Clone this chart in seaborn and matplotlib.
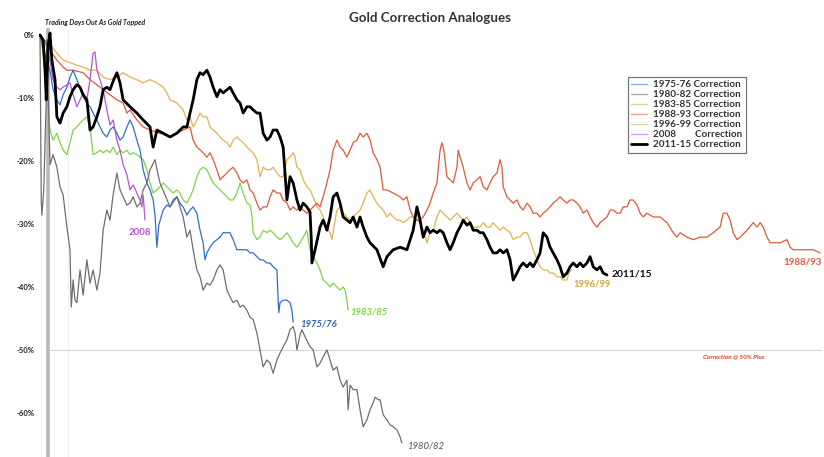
import pandas as pd
import matplotlib
matplotlib.use('Agg')
import matplotlib.pyplot as plt
import seaborn as sns

# (trading day, % change from the top)
c1975 = [(0,0),(5,-1.6),(10,-4.0),(16,-5.6),(21,-8.7),(27,-10.3),(32,-11.1),(37,-9.5),(43,-8.3),(48,-6.7),(53,-5.6),
         (59,-7.1),(64,-8.3),(69,-9.8),(75,-10.8),(80,-11.4),(85,-12.4),(91,-13.5),(96,-14.6),(101,-15.6),(107,-16.2),
         (112,-15.1),(117,-14.6),(123,-15.6),(128,-16.7),(133,-16.2),(139,-14.6),(144,-13.5),(149,-14.6),(155,-16.7),
         (160,-18.3),(165,-21.4),(171,-23.5),(176,-24.6),(181,-26.2),(184,-28.6),(187,-33.7),(190,-30.2),(197,-27.8),
         (203,-27.0),(208,-27.3),(213,-26.2),(219,-25.7),(224,-26.7),(229,-27.3),(235,-28.6),(240,-27.8),(245,-27.3),
         (251,-28.3),(256,-31.0),(261,-33.0),(264,-35.7),(267,-34.6),(272,-33.7),(277,-33.0),(283,-32.5),(288,-32.1),
         (293,-31.4),(299,-31.4),(304,-31.4),(309,-32.5),(315,-34.1),(320,-34.1),(325,-34.1),(331,-34.1),(336,-34.6),
         (341,-34.6),(347,-35.2),(352,-35.7),(357,-35.7),(363,-36.2),(368,-36.2),(373,-36.8),(379,-37.3),(381,-42.1),
         (382,-44.1),(384,-42.5),(389,-42.1),(395,-42.1),(400,-42.5),(403,-43.7),(405,-45.6)]

c1980 = [(0,0),(2,-26.2),(3,-28.6),(6,-24.6),(10,-10.3),(11,-0.8),(13,-8.7),(16,-20.6),(21,-19.0),(27,-21.0),
         (32,-24.1),(37,-25.4),(43,-30.5),(48,-34.1),(50,-43.2),(53,-38.9),(56,-42.1),(59,-42.5),(64,-37.3),(69,-41.3),
         (75,-35.7),(80,-39.4),(85,-37.3),(91,-40.5),(96,-37.8),(101,-31.0),(107,-27.8),(112,-29.4),(117,-25.4),
         (123,-21.9),(128,-24.6),(133,-25.7),(139,-27.0),(144,-26.7),(149,-25.7),(155,-27.3),(160,-26.7),(165,-24.6),
         (171,-23.5),(176,-21.4),(184,-19.8),(189,-22.2),(192,-23.5),(200,-25.4),(208,-27.3),(219,-25.7),(229,-28.9),
         (235,-32.1),(240,-31.0),(245,-34.1),(251,-37.3),(256,-38.4),(261,-40.5),(267,-39.4),(272,-39.7),(277,-38.9),
         (283,-37.3),(288,-36.5),(293,-37.3),(299,-40.5),(304,-41.6),(309,-42.5),(315,-42.1),(320,-43.2),(325,-42.9),
         (331,-43.7),(336,-44.8),(341,-45.2),(347,-47.3),(352,-50.0),(357,-52.7),(363,-51.6),(368,-52.1),(373,-53.7),
         (379,-51.6),(384,-50.5),(389,-49.5),(395,-48.4),(400,-46.8),(405,-46.3),(408,-47.3),(411,-50.0),(416,-47.6),
         (419,-46.8),(424,-47.9),(432,-49.5),(437,-50.0),(443,-52.7),(448,-52.1),(453,-51.1),(459,-50.0),(464,-51.6),
         (469,-53.2),(475,-52.7),(480,-54.8),(485,-55.9),(491,-54.8),(493,-59.5),(496,-55.6),(501,-56.3),(507,-56.3),
         (512,-59.5),(517,-62.2),(523,-61.1),(528,-59.5),(533,-58.4),(536,-57.5),(541,-57.9),(544,-57.9),(549,-60.3),
         (555,-61.1),(560,-61.9),(565,-62.2),(571,-62.7),(576,-63.8),(579,-64.8)]

c1983 = [(0,0),(3,-1.6),(6,-4.0),(10,-8.7),(13,-11.9),(16,-15.1),(21,-16.7),(27,-15.6),(32,-17.1),(37,-18.3),
         (43,-19.0),(48,-17.1),(53,-15.1),(59,-14.6),(64,-14.0),(69,-13.5),(75,-13.0),(80,-14.6),(85,-19.0),(91,-18.7),
         (96,-18.3),(101,-18.7),(107,-18.3),(112,-18.7),(117,-17.8),(123,-19.0),(128,-18.3),(133,-18.7),(139,-18.3),
         (144,-19.0),(149,-18.7),(155,-19.0),(160,-19.4),(165,-19.8),(171,-21.4),(176,-23.5),(181,-25.1),(187,-24.6),
         (192,-24.1),(197,-23.5),(203,-24.1),(208,-24.6),(213,-25.1),(219,-24.6),(224,-25.1),(229,-26.2),(235,-26.7),
         (240,-25.7),(245,-24.6),(251,-22.5),(256,-21.4),(261,-21.0),(267,-21.4),(272,-22.5),(277,-23.5),(283,-24.1),
         (288,-24.6),(293,-25.1),(299,-25.7),(304,-26.2),(309,-26.2),(315,-25.1),(320,-23.5),(325,-25.1),(331,-26.7),
         (336,-27.0),(339,-28.6),(341,-31.4),(347,-32.5),(352,-32.1),(357,-31.0),(363,-31.4),(368,-31.0),(373,-31.4),
         (379,-32.1),(384,-32.5),(389,-32.1),(395,-31.4),(400,-32.1),(405,-33.0),(411,-33.7),(416,-33.0),(421,-32.1),
         (427,-31.0),(432,-34.1),(437,-35.2),(443,-36.2),(448,-37.3),(453,-38.9),(459,-39.4),(464,-40.0),(469,-39.4),
         (475,-40.0),(480,-40.5),(485,-40.0),(488,-40.5),(491,-42.1),(493,-43.7)]

c1988 = [(0,0),(5,-0.8),(11,-1.6),(16,-2.4),(27,-4.0),(37,-5.1),(43,-5.6),(53,-5.6),(69,-6.0),(80,-7.1),(91,-7.9),
         (101,-8.7),(112,-9.5),(123,-10.3),(133,-10.8),(139,-12.4),(144,-11.9),(155,-13.5),(165,-14.6),(176,-15.1),
         (192,-15.6),(208,-16.2),(219,-15.6),(229,-15.1),(240,-14.6),(245,-16.7),(251,-17.8),(261,-18.7),(267,-19.4),
         (272,-18.7),(277,-19.8),(283,-21.4),(288,-23.0),(293,-22.5),(299,-21.9),(304,-21.4),(309,-21.0),(315,-21.9),
         (320,-23.0),(325,-23.5),(331,-23.0),(336,-24.6),(341,-25.1),(347,-26.7),(352,-27.8),(357,-27.3),(363,-27.3),
         (368,-25.7),(373,-24.6),(379,-25.1),(384,-25.1),(389,-26.2),(395,-26.7),(400,-27.8),(405,-27.3),(411,-27.8),
         (416,-27.3),(421,-27.8),(427,-28.3),(432,-27.8),(437,-27.3),(443,-26.7),(448,-27.3),(453,-25.7),(459,-23.5),
         (464,-21.4),(469,-18.3),(475,-16.7),(480,-17.8),(485,-18.3),(491,-19.4),(496,-18.3),(501,-17.1),(507,-16.7),
         (512,-15.6),(517,-16.2),(523,-15.6),(528,-16.7),(533,-18.7),(539,-19.8),(544,-21.0),(549,-24.6),(555,-24.6),
         (565,-25.1),(576,-25.7),(581,-26.2),(587,-25.7),(592,-27.8),(597,-28.9),(603,-29.4),(608,-29.4),(613,-28.9),
         (619,-27.8),(624,-26.7),(629,-25.1),(635,-23.5),(640,-18.3),(643,-17.1),(646,-18.3),(651,-22.5),(656,-23.0),
         (661,-23.5),(667,-21.0),(669,-18.3),(672,-19.4),(677,-21.0),(683,-23.5),(688,-24.6),(693,-23.5),(699,-23.0),
         (704,-22.5),(709,-24.1),(715,-24.6),(720,-23.5),(725,-22.5),(731,-21.9),(736,-19.8),(739,-21.0),(741,-24.1),
         (747,-25.7),(752,-26.2),(757,-26.7),(763,-26.2),(768,-27.3),(773,-27.8),(779,-26.7),(784,-27.3),(789,-28.3),
         (795,-28.3),(800,-28.9),(805,-28.3),(811,-27.8),(816,-27.3),(821,-26.7),(827,-26.2),(832,-25.7),(837,-26.2),
         (843,-26.7),(848,-26.2),(853,-26.2),(859,-26.7),(864,-27.3),(869,-28.3),(875,-27.8),(880,-28.9),(885,-29.8),
         (891,-30.5),(896,-29.8),(901,-29.4),(907,-28.9),(912,-27.8),(917,-27.8),(923,-28.3),(928,-28.3),(933,-27.3),
         (939,-27.3),(944,-26.2),(949,-26.2),(955,-27.0),(960,-28.3),(965,-28.9),(971,-28.3),(981,-28.9),(992,-28.9),
         (1003,-29.8),(1013,-31.4),(1019,-32.1),(1024,-31.4),(1035,-32.1),(1045,-32.5),(1056,-32.1),(1067,-32.1),
         (1077,-31.4),(1088,-30.5),(1093,-28.3),(1099,-28.3),(1104,-29.4),(1109,-31.4),(1115,-32.5),(1120,-32.1),
         (1131,-31.0),(1141,-29.8),(1147,-30.5),(1152,-29.8),(1157,-30.5),(1163,-32.1),(1168,-33.0),(1173,-33.0),
         (1184,-33.0),(1195,-32.5),(1200,-33.7),(1205,-34.1),(1216,-34.1),(1227,-34.1),(1237,-34.1),(1248,-34.6)]

c1996 = [(0,0),(5,-0.8),(16,-1.6),(27,-2.9),(37,-4.0),(48,-4.4),(59,-4.8),(69,-5.1),(80,-5.6),(91,-5.6),(101,-6.7),
         (112,-7.1),(123,-6.7),(133,-6.0),(144,-6.7),(155,-7.1),(165,-7.6),(176,-7.1),(187,-7.6),(197,-8.3),(203,-9.2),
         (208,-10.3),(219,-10.8),(229,-11.9),(235,-13.5),(240,-13.0),(245,-14.6),(251,-13.5),(256,-12.4),(261,-13.0),
         (267,-13.0),(272,-14.6),(277,-15.1),(283,-15.6),(288,-16.2),(293,-16.7),(299,-17.1),(304,-17.8),(309,-16.7),
         (315,-16.2),(320,-16.7),(325,-17.1),(331,-17.8),(336,-18.3),(341,-18.7),(347,-19.8),(352,-22.5),(357,-21.0),
         (363,-21.4),(368,-21.4),(373,-21.0),(379,-21.9),(384,-22.5),(389,-22.5),(395,-19.8),(400,-19.4),(405,-18.7),
         (408,-19.4),(411,-21.0),(416,-21.4),(421,-23.0),(427,-24.1),(432,-24.6),(437,-25.7),(443,-27.3),(448,-27.8),
         (453,-28.9),(459,-30.5),(464,-31.4),(467,-32.5),(472,-29.4),(475,-27.8),(480,-27.3),(485,-28.3),(491,-28.9),
         (496,-29.4),(501,-28.9),(507,-28.3),(512,-27.8),(517,-26.7),(523,-25.1),(528,-24.6),(533,-25.7),(539,-26.7),
         (544,-27.3),(549,-27.8),(555,-28.9),(560,-28.3),(565,-28.9),(571,-29.4),(576,-29.4),(581,-29.8),(587,-29.4),
         (592,-28.9),(597,-28.9),(603,-29.4),(608,-29.8),(613,-31.0),(619,-33.0),(624,-31.4),(629,-31.0),(635,-28.9),
         (640,-27.8),(645,-28.3),(651,-28.9),(656,-29.4),(661,-28.9),(667,-28.3),(672,-28.9),(677,-29.4),(683,-28.9),
         (688,-29.8),(693,-30.5),(699,-30.5),(704,-30.5),(709,-29.8),(715,-30.5),(720,-30.5),(725,-29.8),(731,-30.5),
         (736,-31.0),(741,-30.5),(747,-31.0),(752,-31.4),(757,-32.5),(763,-32.1),(768,-32.1),(773,-31.4),(779,-31.4),
         (784,-32.5),(789,-34.1),(795,-35.7),(800,-36.8),(805,-37.3),(811,-37.3),(816,-37.8),(821,-37.8),(827,-38.4),
         (832,-38.4),(837,-38.9),(843,-38.9),(846,-37.8),(850,-37.3)]

c2008 = [(0,0),(3,-1.6),(8,-0.8),(13,-3.2),(16,-4.0),(21,-7.1),(27,-8.3),(32,-8.7),(37,-8.3),(43,-7.9),(48,-7.6),
         (53,-9.5),(59,-11.4),(64,-10.3),(69,-9.2),(75,-10.3),(80,-7.1),(85,-2.9),(88,-2.7),(91,-5.6),(96,-7.1),
         (101,-8.7),(107,-11.9),(112,-14.3),(117,-13.5),(123,-16.7),(128,-18.3),(133,-20.6),(139,-22.2),(144,-24.6),
         (149,-23.8),(155,-25.1),(160,-26.2),(163,-27.3),(165,-25.4),(168,-29.4)]

c2011 = [(0,0),(5,-0.8),(8,-5.6),(10,-10.3),(13,-1.6),(16,0.3),(19,-4.0),(24,-7.1),(27,-13.0),(32,-14.0),(37,-12.4),
         (43,-11.4),(48,-9.8),(53,-8.7),(59,-7.9),(64,-8.3),(69,-9.5),(75,-10.3),(80,-15.1),(85,-14.6),(91,-13.0),
         (96,-11.4),(101,-8.7),(107,-8.3),(112,-8.7),(118,-7.1),(123,-6.0),(128,-7.6),(133,-10.3),(144,-11.4),
         (155,-12.4),(165,-13.5),(176,-14.6),(181,-17.8),(187,-15.1),(197,-15.6),(208,-16.2),(219,-15.6),(229,-14.6),
         (235,-14.6),(240,-12.4),(245,-10.3),(251,-7.1),(256,-6.0),(261,-6.3),(267,-5.6),(272,-6.7),(277,-8.3),
         (283,-9.8),(288,-8.7),(293,-9.2),(299,-8.7),(304,-8.3),(309,-9.2),(315,-10.3),(320,-10.8),(325,-12.4),
         (331,-11.4),(336,-11.4),(341,-11.9),(347,-12.4),(352,-12.4),(357,-15.6),(363,-16.7),(368,-16.2),(373,-15.1),
         (379,-15.1),(384,-16.2),(389,-17.8),(392,-21.9),(395,-26.2),(400,-22.5),(405,-23.5),(411,-26.2),(416,-27.8),
         (421,-26.7),(427,-27.3),(432,-28.1),(434,-32.5),(435,-36.2),(440,-34.1),(448,-30.5),(453,-29.4),(459,-31.0),
         (464,-28.9),(469,-25.7),(475,-25.1),(480,-26.7),(485,-28.9),(491,-29.4),(496,-29.8),(501,-28.9),(507,-30.5),
         (512,-28.9),(517,-30.5),(523,-32.1),(528,-33.0),(539,-34.1),(549,-36.8),(555,-35.2),(565,-34.1),(576,-33.7),
         (587,-34.1),(597,-31.0),(603,-27.3),(608,-29.4),(613,-32.1),(619,-30.5),(624,-31.4),(629,-31.0),(635,-31.4),
         (640,-31.0),(645,-31.4),(651,-33.0),(656,-34.1),(661,-33.0),(667,-31.4),(672,-30.5),(677,-29.4),(683,-30.2),
         (688,-29.8),(693,-31.0),(699,-31.0),(704,-31.4),(709,-31.4),(715,-32.5),(720,-33.7),(725,-34.6),(731,-34.6),
         (736,-34.1),(741,-34.6),(747,-34.1),(752,-35.7),(757,-38.9),(763,-37.8),(768,-36.8),(773,-36.2),(779,-36.8),
         (784,-36.2),(789,-36.8),(795,-35.7),(800,-34.6),(805,-31.4),(811,-32.1),(816,-33.7),(821,-34.6),(827,-35.7),
         (832,-36.8),(837,-38.4),(843,-37.8),(848,-36.8),(853,-36.2),(859,-36.8),(864,-36.2),(869,-36.8),(875,-36.2),
         (880,-35.2),(885,-36.8),(891,-37.3),(896,-36.8),(901,-37.8),(907,-38.1)]

legend_labels = ['1975-76 Correction', '1980-82 Correction', '1983-85 Correction', '1988-93 Correction',
                 '1996-99 Correction', '2008        Correction', '2011-15 Correction']
series = [c1975, c1980, c1983, c1988, c1996, c2008, c2011]
colors = ['#2f6dcc', '#6e6e6e', '#7fd446', '#e2573a', '#e2b24e', '#b455d6', '#000000']
yticks = [0, -10, -20, -30, -40, -50, -60]

frames = []
for lab, pts in zip(legend_labels, series):
    d = pd.DataFrame(pts, columns=['day', 'pct'])
    d['series'] = lab
    frames.append(d)
df = pd.concat(frames, ignore_index=True)

sns.set_style('white')
plt.rcParams['font.family'] = ['Lato', 'DejaVu Sans']

fig = plt.figure(figsize=(8.24, 4.57), dpi=100)
ax = fig.add_axes([39 / 824, 0, 783 / 824, 429 / 457])

# axis line on the left and the 50% guide
ax.axvline(12, color='#b9b9b9', lw=2.6, zorder=1)
ax.axvline(45, color='#f0f0f0', lw=0.8, zorder=0)
ax.axhline(-50, xmin=0.01, color='#dcd2c8', lw=0.8, zorder=0)

draw_order = [4, 3, 2, 0, 5, 1, 6]
for i in draw_order:
    sub = df[df['series'] == legend_labels[i]]
    sns.lineplot(data=sub, x='day', y='pct', ax=ax, color=colors[i], sort=False, estimator=None,
                 lw=2.0 if i == 6 else 0.9, label=legend_labels[i], zorder=5 if i == 6 else 3)

# legend in original order, faint handles as in the source
leg_handles = [plt.Line2D([], [], color=colors[i], lw=2.0 if i == 6 else 1.0,
                          alpha=1.0 if i == 6 else 0.55) for i in range(7)]
leg = ax.legend(leg_handles, legend_labels, loc='upper left', bbox_to_anchor=(628 / 824, 1 - 77 / 457),
                bbox_transform=fig.transFigure, fancybox=False, frameon=True, fontsize=7.1,
                handlelength=1.6, handletextpad=0.6, labelspacing=0.1, borderpad=0.35, borderaxespad=0)
leg.get_frame().set_edgecolor('#555555')
leg.get_frame().set_linewidth(0.9)
for t in leg.get_texts():
    t.set_fontweight('bold')
    t.set_color('#333333')

ax.set_xlim(-1.6, 1251)
ax.set_ylim(-67, 1.1)
ax.set_yticks(yticks)
ax.set_yticklabels([f'{v}%' for v in yticks], fontsize=5.5, fontweight='bold', color='#222222')
ax.set_xticks([])
ax.tick_params(axis='y', length=0, pad=3)
ax.set_xlabel('')
ax.set_ylabel('')
for s in ax.spines.values():
    s.set_visible(False)

# end-of-line labels
ax.text(160, -31.4, '2008', color='#b455d6', fontsize=7, fontweight='bold', ha='center', va='center')
ax.text(416, -45.9, '1975/76', color='#2f5fb8', fontsize=6.8, fontweight='bold', style='italic', va='center')
ax.text(496, -44.0, '1983/85', color='#7fd446', fontsize=6.8, fontweight='bold', style='italic', va='center')
ax.text(587, -65.2, '1980/82', color='#555555', fontsize=6.8, style='italic', va='center')
ax.text(915, -37.9, '2011/15', color='#111111', fontsize=7.4, fontweight='bold', va='center')
ax.text(853, -39.5, '1996/99', color='#d9a632', fontsize=6.8, fontweight='bold', va='center')
ax.text(1189, -36.0, '1988/93', color='#e2573a', fontsize=7, fontweight='bold', va='center')
ax.text(1061, -51.1, 'Correction @ 50% Plus', color='#e03a2a', fontsize=4.6, fontweight='bold',
        style='italic', va='center')

fig.text(430 / 824, 1 - 18 / 457, 'Gold Correction Analogues', ha='center', va='center',
         fontsize=9.6, fontweight='bold', color='#333333')
fig.text(45 / 824, 1 - 23 / 457, 'Trading Days Out As Gold Topped', ha='left', va='center',
         fontsize=5, fontweight='bold', style='italic', color='#222222')

fig.savefig('out.png', dpi=100)
